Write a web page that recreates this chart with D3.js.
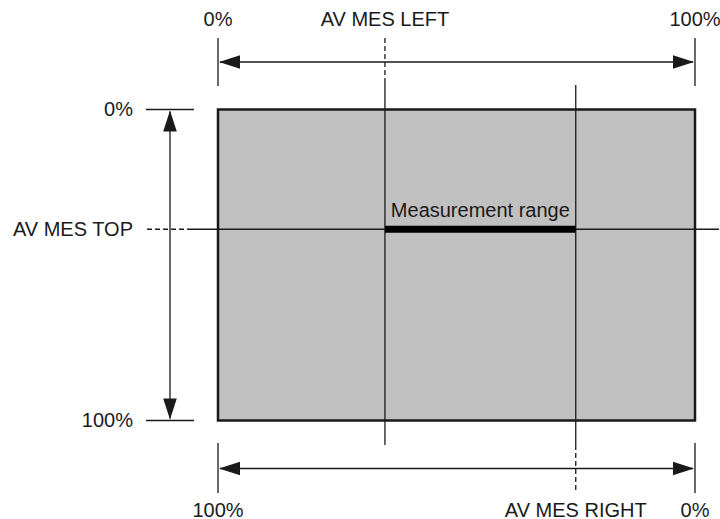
<!DOCTYPE html>
<html>
<head>
<meta charset="utf-8">
<script src="https://cdn.jsdelivr.net/npm/d3@7"></script>
<style>
  html, body { margin: 0; padding: 0; background: #fff; }
  text { font-family: "Liberation Sans", Arial, sans-serif; fill: #1a1a1a; }
</style>
</head>
<body>
<svg id="chart" width="720" height="519"></svg>
<script>
// ---- data ----
const avMesLeft = 35;      // % from left edge
const avMesRight = 25;     // % from right edge
const avMesTop = 38.5;     // % from top edge
const edgeLabels = ["0%", "100%"];
const markerLabels = ["AV MES LEFT", "AV MES RIGHT", "AV MES TOP"];
const rangeLabel = "Measurement range";

// ---- scales ----
const W = 720, H = 519;
const xL = d3.scaleLinear().domain([0, 100]).range([218, 695]);   // measured from left
const xR = d3.scaleLinear().domain([100, 0]).range([218, 695]);   // measured from right
const y = d3.scaleLinear().domain([0, 100]).range([109.5, 420.5]);

const svg = d3.select("#chart");
const ink = "#1a1a1a";
const thin = 1.3;
const dash = "5,3";
const fs = 20;

function line(x1, y1, x2, y2, opts = {}) {
  return svg.append("line")
    .attr("x1", x1).attr("y1", y1).attr("x2", x2).attr("y2", y2)
    .attr("stroke", opts.color || ink)
    .attr("stroke-width", opts.w || thin)
    .attr("stroke-dasharray", opts.dash || null);
}
function arrowHead(tx, ty, dir) {
  const L = 21, h = 6.8;
  let pts;
  if (dir === "left") pts = [[tx, ty], [tx + L, ty - h], [tx + L, ty + h]];
  if (dir === "right") pts = [[tx, ty], [tx - L, ty - h], [tx - L, ty + h]];
  if (dir === "up") pts = [[tx, ty], [tx - h, ty + L], [tx + h, ty + L]];
  if (dir === "down") pts = [[tx, ty], [tx - h, ty - L], [tx + h, ty - L]];
  svg.append("path").attr("d", d3.line()(pts) + "Z").attr("fill", ink);
}
function label(txt, x, yy, anchor, size) {
  return svg.append("text").attr("x", x).attr("y", yy)
    .attr("text-anchor", anchor || "middle")
    .attr("font-size", size || fs)
    .text(txt);
}

// ---- measured area ----
svg.append("rect")
  .attr("x", xL(0)).attr("y", y(0))
  .attr("width", xL(100) - xL(0)).attr("height", y(100) - y(0))
  .attr("fill", "#c0c0c0");

const xLeft = xL(avMesLeft), xRight = xR(avMesRight), yTop = y(avMesTop);

// vertical marker lines
line(xLeft, 38, xLeft, 80, { dash: dash });
line(xLeft, 80, xLeft, 445);
line(xRight, 85, xRight, 445);
line(xRight, 445, xRight, 493, { dash: dash });
// horizontal marker line
line(147, yTop, 190, yTop, { dash: dash });
line(190, yTop, 719, yTop);

// rectangle border
svg.append("rect")
  .attr("x", xL(0)).attr("y", y(0))
  .attr("width", xL(100) - xL(0)).attr("height", y(100) - y(0))
  .attr("fill", "none").attr("stroke", ink).attr("stroke-width", 2.5);

// measurement range bar
line(xLeft, yTop, xRight, yTop, { w: 7, color: "#000" });
label(rangeLabel, (xLeft + xRight) / 2, 216.5, "middle", 20);

// ---- top dimension (AV MES LEFT) ----
const yTopArrow = 62;
line(xL(0), 38, xL(0), 86);
line(xL(100), 38, xL(100), 86);
line(xL(0) + 2, yTopArrow, xL(100) - 2, yTopArrow);
arrowHead(xL(0) + 1, yTopArrow, "left");
arrowHead(xL(100) - 1, yTopArrow, "right");
label(edgeLabels[0], xL(0), 26, "middle");
label(edgeLabels[1], xL(100), 26, "middle");
label(markerLabels[0], xLeft, 26, "middle");

// ---- bottom dimension (AV MES RIGHT) ----
const yBotArrow = 468.5;
line(xR(100), 443, xR(100), 493);
line(xR(0), 443, xR(0), 493);
line(xR(100) + 2, yBotArrow, xR(0) - 2, yBotArrow);
arrowHead(xR(100) + 1, yBotArrow, "left");
arrowHead(xR(0) - 1, yBotArrow, "right");
label(edgeLabels[1], xR(100), 516.5, "middle");
label(edgeLabels[0], xR(0), 516.5, "middle");
label(markerLabels[1], xRight, 516.5, "middle");

// ---- left dimension (AV MES TOP) ----
const xSideArrow = 170;
line(146, y(0), 194, y(0));
line(146, y(100), 194, y(100));
line(xSideArrow, y(0) + 2, xSideArrow, y(100) - 2);
arrowHead(xSideArrow, y(0) + 1, "up");
arrowHead(xSideArrow, y(100) - 1, "down");
label(edgeLabels[0], 133, y(0) + 6.5, "end");
label(edgeLabels[1], 133, y(100) + 6.5, "end");
label(markerLabels[2], 133, yTop + 6.8, "end");
</script>
</body>
</html>
